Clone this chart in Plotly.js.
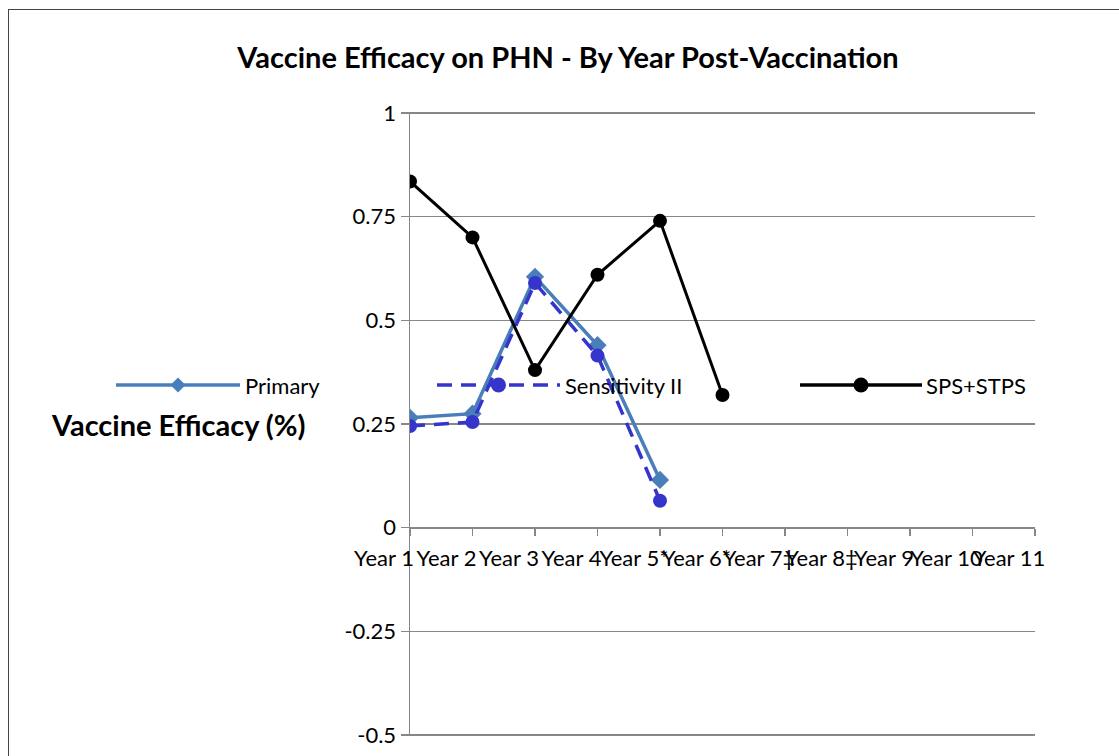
<!DOCTYPE html>
<html>
<head>
<meta charset="utf-8">
<script src="https://cdn.plot.ly/plotly-3.0.1.min.js"></script>
<style>
html, body { margin:0; padding:0; overflow:hidden; background:#fff; }
#chart { width:1119px; height:756px; }
#frame { position:absolute; left:8px; top:9px; width:3000px; height:3000px; border:1px solid #444; pointer-events:none; }
</style>
</head>
<body>
<div id="chart"></div>
<div id="frame"></div>
<script>
// ---- Data ----
const categories = ['Year 1','Year 2','Year 3','Year 4','Year 5','Year 6','Year 7','Year 8','Year 9','Year 10','Year 11'];
const tickLabels = ['Year 1','Year 2','Year 3','Year 4','Year 5*','Year 6*','Year 7\u2021','Year 8\u2021','Year 9','Year 10','Year 11'];
const primaryName = 'Primary';
const primaryValues = [0.265, 0.275, 0.605, 0.44, 0.115];
const sensName = 'Sensitivity II';
const sensValues = [0.245, 0.255, 0.59, 0.415, 0.065];
const spsName = 'SPS+STPS';
const spsValues = [0.835, 0.70, 0.38, 0.61, 0.74, 0.32];
const yTickVals = [-0.5, -0.25, 0, 0.25, 0.5, 0.75, 1];
const yTickLabels = ['-0.5', '-0.25', '0', '0.25', '0.5', '0.75', '1'];

// ---- Layout geometry ----
const W = 1119, H = 756;
const L = 410, R = 1035, T = 112, B = 736;
const px = x => (x - L) / (R - L);
const py = y => (B - y) / (B - T);

const FONT = 'Lato, Carlito, "DejaVu Sans", sans-serif';
const C_PRIMARY = '#4a7ebb';
const C_SENS = '#3535cc';
const C_SPS = '#000000';
const GRID = '#878787';
const YPAD = 0.0025;

const traces = [
  { x: categories.slice(0, primaryValues.length), y: primaryValues, name: primaryName, type: 'scatter', mode: 'lines+markers',
    line: { color: C_PRIMARY, width: 3.5 }, marker: { symbol: 'diamond', size: 14, color: C_PRIMARY } },
  { x: categories.slice(0, sensValues.length), y: sensValues, name: sensName, type: 'scatter', mode: 'lines+markers',
    line: { color: C_SENS, width: 3.5, dash: '15px,9px' }, marker: { symbol: 'circle', size: 14, color: C_SENS } },
  { x: categories.slice(0, spsValues.length), y: spsValues, name: spsName, type: 'scatter', mode: 'lines+markers',
    line: { color: C_SPS, width: 3 }, marker: { symbol: 'circle', size: 14, color: C_SPS } }
];

// manual legend (long line symbols)
const legendY = py(385);
const legendItems = [
  { name: primaryName, color: C_PRIMARY, dash: 'solid', sym: 'diamond', x0: 116, x1: 240, tx: 243 },
  { name: sensName, color: C_SENS, dash: '15px,9px', sym: 'circle', x0: 437, x1: 560, tx: 563 },
  { name: spsName, color: C_SPS, dash: 'solid', sym: 'circle', x0: 800, x1: 922, tx: 924 }
];
const shapes = [];
const annotations = [];
legendItems.forEach(it => {
  shapes.push({ type: 'line', xref: 'paper', yref: 'paper', x0: px(it.x0), x1: px(it.x1), y0: legendY, y1: legendY,
    layer: 'below', line: { color: it.color, width: 3.5, dash: it.dash } });
  const cx = px((it.x0 + it.x1) / 2);
  if (it.sym === 'circle') {
    shapes.push({ type: 'circle', xref: 'paper', yref: 'paper', xsizemode: 'pixel', ysizemode: 'pixel',
      xanchor: cx, yanchor: legendY, x0: -7.5, x1: 7.5, y0: -7.5, y1: 7.5,
      fillcolor: it.color, line: { color: it.color, width: 0 } });
  } else {
    shapes.push({ type: 'path', xref: 'paper', yref: 'paper', xsizemode: 'pixel', ysizemode: 'pixel',
      xanchor: cx, yanchor: legendY, path: 'M0,7.5 L7.5,0 L0,-7.5 L-7.5,0 Z',
      fillcolor: it.color, line: { color: it.color, width: 0 } });
  }
  annotations.push({ xref: 'paper', yref: 'paper', x: px(it.tx), y: legendY, xanchor: 'left', yanchor: 'middle',
    text: it.name, showarrow: false, font: { family: FONT, size: 22, color: '#000' } });
});
// horizontal y-axis title
annotations.push({ xref: 'paper', yref: 'paper', x: px(178), y: py(424), xanchor: 'center', yanchor: 'middle',
  text: '<b>Vaccine Efficacy (%)</b>', showarrow: false, font: { family: FONT, size: 29, color: '#000' } });

const layout = {
  width: W, height: H,
  margin: { l: L, r: W - R, t: T, b: H - B, pad: 0 },
  paper_bgcolor: '#fff', plot_bgcolor: '#fff',
  showlegend: false,
  title: { text: '<b>Vaccine Efficacy on PHN - By Year Post-Vaccination</b>', x: 568 / W, xanchor: 'center',
    y: 1 - 58 / H, yanchor: 'middle', font: { family: FONT, size: 29, color: '#000' } },
  xaxis: {
    type: 'category', categoryorder: 'array', categoryarray: categories,
    range: [0, categories.length - 1],
    tickvals: categories, ticktext: tickLabels, tickangle: 0,
    ticklabelshift: -26, ticklabelstandoff: 3,
    anchor: 'free', position: (0.5 + YPAD) / (1.5 + 2 * YPAD),
    showline: true, linecolor: GRID, linewidth: 1.5,
    ticks: 'outside', ticklen: 7, tickcolor: GRID, tickwidth: 1.5,
    showgrid: false, zeroline: false,
    tickfont: { family: FONT, size: 22, color: '#000' }
  },
  yaxis: {
    range: [-0.5 - YPAD, 1 + YPAD], tickvals: yTickVals, ticktext: yTickLabels,
    showline: true, linecolor: GRID, linewidth: 1.5,
    ticks: 'outside', ticklen: 8, tickcolor: GRID, tickwidth: 1.5,
    showgrid: true, gridcolor: GRID, gridwidth: 1.5, zeroline: false,
    tickfont: { family: FONT, size: 22, color: '#000' }
  },
  shapes: shapes,
  annotations: annotations
};

Plotly.newPlot('chart', traces, layout, { displayModeBar: false, staticPlot: true });
</script>
</body>
</html>
